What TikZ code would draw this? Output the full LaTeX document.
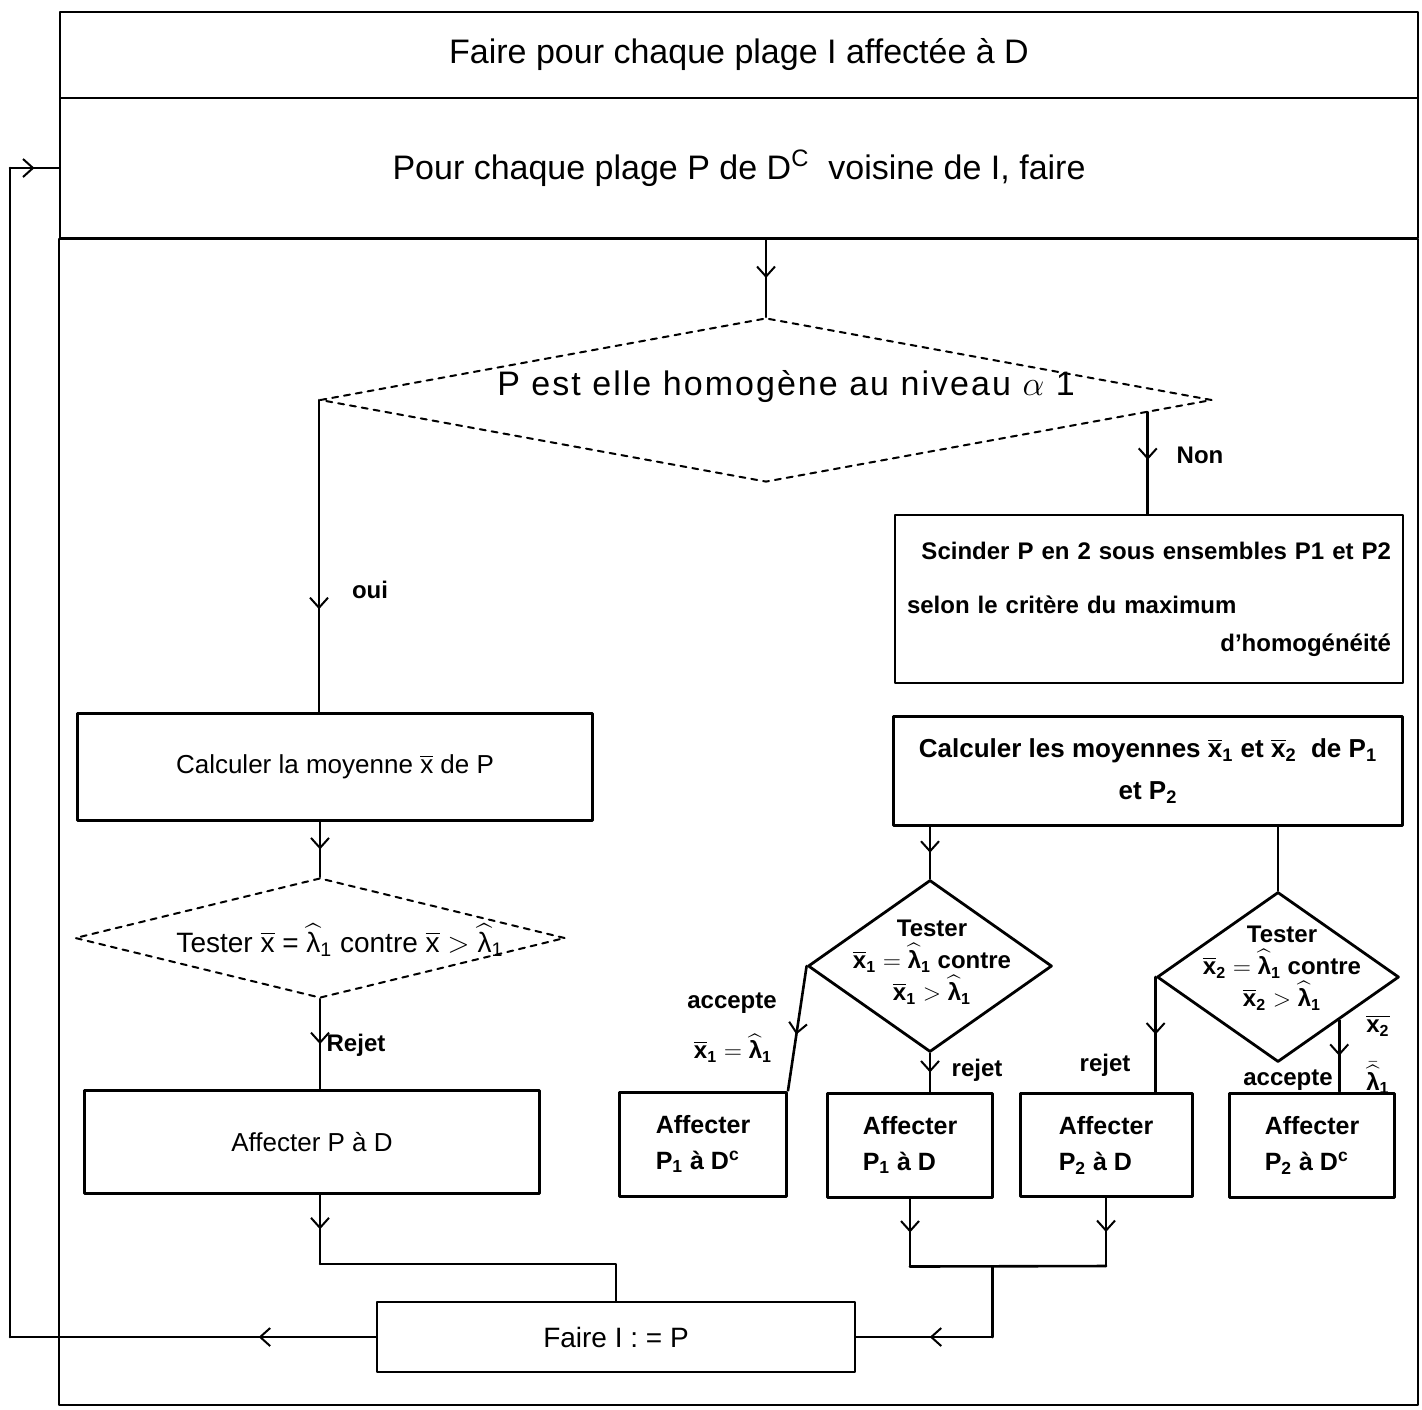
\documentclass[tikz,border=0pt]{standalone}
\usepackage{amsmath}
\usepackage{fontspec}
\setmainfont{Liberation Sans}
\usetikzlibrary{shapes.geometric,arrows.meta,decorations.markings,calc}
\newcommand{\moyx}{\overline{\text{x}}}
\newcommand{\lamh}{\widehat{\text{λ}}}
\tikzset{
  conn/.style={line width=1.3pt},
  midarrow/.style={postaction={decorate},
    decoration={markings, mark=at position #1 with {\arrow{Straight Barb[length=5pt,width=9pt,line width=1pt]}}}},
  midarrow/.default=0.5,
  band/.style={draw, line width=1pt, inner sep=0pt, font=\fontsize{17}{20}\selectfont},
  box/.style={draw, line width=1.3pt, inner sep=3pt, font=\fontsize{13}{16}\selectfont},
  smallbox/.style={box, line width=1.5pt, font=\bfseries\fontsize{12.5}{18}\selectfont, align=left},
  decision/.style={draw, diamond, inner sep=0pt, line width=1pt},
  dtext/.style={font=\bfseries\fontsize{12}{16}\selectfont, align=center, inner sep=0pt},
  lbl/.style={font=\bfseries\fontsize{12}{14}\selectfont, inner sep=1pt},
}

\begin{document}
\begin{tikzpicture}[x=0.5pt, y=-0.5pt, line cap=round, line join=round]
  \useasboundingbox (0,0) rectangle (1422,1409);

  % frame of the loops
  \node[band, minimum width=679pt, minimum height=43pt] (band1) at (739,55)
    {Faire pour chaque plage I affectée à D};
  \node[band, minimum width=679pt, minimum height=70pt] (band2) at (739,168)
    {Pour chaque plage P de D\textsuperscript{C}\ \ voisine de I, faire};
  \draw[line width=1pt] (band2.south west) rectangle (1418,1405);

  % main test
  \node[decision, dashed, minimum width=446pt, minimum height=82pt] (homog) at (766,400) {};
  \node[font=\fontsize{17}{20}\selectfont\addfontfeature{LetterSpace=6}] (homogtxt) at (786,386)
    {P est elle homogène au niveau $\alpha$ 1};

  % left branch
  \node[box, minimum width=257.5pt, minimum height=53.5pt] (calc) at (335,767)
    {Calculer la moyenne $\moyx$ de P};
  \node[decision, dashed, minimum width=245pt, minimum height=60pt] (test) at (320,938) {};
  \node[font=\fontsize{14}{16}\selectfont] (testtxt) at (340,940)
    {Tester $\moyx$ = $\lamh_{\text{1}}$ contre $\moyx > \lamh_{\text{1}}$};
  \node[box, minimum width=227.5pt, minimum height=51.5pt] (affP) at (312,1142) {Affecter P à D};
  \node[box, font=\fontsize{14}{16}\selectfont, minimum width=239pt, minimum height=35pt] (faire) at (616,1337)
    {Faire I : = P};

  % right branch
  \node[box, font=\bfseries\fontsize{12}{15}\selectfont, align=left, text width=242pt,
        minimum width=254pt, minimum height=84pt] (scinder) at (1149,599)
    {\hspace*{\fill}Scinder P en 2 sous ensembles P1 et P2\hspace*{\fill}\\[12pt]
     selon le critère du maximum\\[4pt]
     \hspace*{\fill}d'homogénéité};
  \node[box, font=\bfseries\fontsize{13}{21}\selectfont, align=center,
        minimum width=254.5pt, minimum height=54.5pt] (moy) at (1148,771)
    {Calculer les moyennes $\moyx_{\text{1}}$ et $\moyx_{\text{2}}$\ \ de P$_{\text{1}}$\\et P$_{\text{2}}$};
  \node[decision, line width=1.4pt, minimum width=122pt, minimum height=86pt] (t1) at (930,966) {};
  \node[dtext] (t1txt) at (932,962)
    {Tester\\$\moyx_{\text{1}} = \lamh_{\text{1}}$ contre\\$\moyx_{\text{1}} > \lamh_{\text{1}}$};
  \node[decision, line width=1.4pt, minimum width=121pt, minimum height=85pt] (t2) at (1278,977) {};
  \node[dtext] (t2txt) at (1282,968)
    {Tester\\$\moyx_{\text{2}} = \lamh_{\text{1}}$ contre\\$\moyx_{\text{2}} > \lamh_{\text{1}}$};

  \node[smallbox, minimum width=83.5pt, minimum height=52pt] (aff1c) at (703,1144)
    {Affecter\\P$_{\text{1}}$ à D\textsuperscript{c}};
  \node[smallbox, minimum width=82.5pt, minimum height=52pt] (aff1d) at (910,1145)
    {Affecter\\P$_{\text{1}}$ à D};
  \node[smallbox, minimum width=86pt, minimum height=51.5pt] (aff2d) at (1106,1145)
    {Affecter\\P$_{\text{2}}$ à D};
  \node[smallbox, minimum width=82.5pt, minimum height=52pt] (aff2c) at (1312,1145)
    {Affecter\\P$_{\text{2}}$ à D\textsuperscript{c}};

  % labels
  \node[lbl] (oui) at (370,590) {oui};
  \node[lbl] (non) at (1200,455) {Non};
  \node[lbl] (rejet) at (356,1045) {Rejet};
  \node[lbl] (rejet1) at (977,1070) {rejet};
  \node[lbl] (rejet2) at (1105,1065) {rejet};
  \node[lbl] (acc1) at (732,1003) {accepte};
  \node[lbl] (eq1) at (733,1048) {$\moyx_{\text{1}} = \lamh_{\text{1}}$};
  \node[lbl] (acc2) at (1288,1080) {accepte};
  \node[lbl] (eq2a) at (1378,1026) {$\overline{\text{x}_{\text{2}}}$};
  \node[lbl] (eq2b) at (1378,1078) {$\bar{\lamh}_{\text{1}}$};

  % connectors, left side
  \draw[conn, midarrow] (homog.north |- band2.south) -- (homog.north);
  \draw[conn, midarrow=0.67] (homog.west) -- (homog.west |- calc.north);
  \draw[conn, midarrow] (test.north |- calc.south) -- (test.north);
  \draw[conn, midarrow] (test.south) -- (test.south |- affP.north);
  \draw[conn, midarrow] (affP.south -| test.south) -- ++(0,69) coordinate (jL);
  \draw[conn] (jL) -| (faire.north);

  % loop back
  \coordinate (loopB) at (10,168);
  \draw[conn, midarrow=0.32] (faire.west) -- (faire.west -| loopB);
  \draw[conn] (faire.west -| loopB) -- (loopB);
  \draw[conn, midarrow] (loopB) -- (band2.west);

  % connectors, right side
  \path (homog.east) -- (homog.south) coordinate[pos=0.146] (nonpt);
  \draw[conn, midarrow=0.47] (nonpt) -- (nonpt |- scinder.north);
  \draw[conn, midarrow] (t1.north |- moy.south) -- (t1.north);
  \draw[conn] (t2.north |- moy.south) -- (t2.north);
  \draw[conn, midarrow=0.55] (t1.west) -- (aff1c.north east);
  \draw[conn, midarrow] (t1.south) -- (t1.south |- aff1d.north);
  \draw[conn, midarrow] (t2.west) -- (t2.west |- aff2d.north);
  \path (t2.east) -- (t2.south) coordinate[pos=0.5] (accpt);
  \draw[conn, midarrow] (accpt) -- (accpt |- aff2c.north);

  % merge into Faire I := P
  \draw[conn, midarrow] (aff1d.south) -- ++(0,68) coordinate (jA);
  \draw[conn, midarrow] (aff2d.south) -- ++(0,68) coordinate (jB);
  \draw[conn] (jA) -- (jB) coordinate[pos=0.42] (jM);
  \draw[conn] (jM) -- (jM |- faire.east);
  \draw[conn, midarrow=0.46] (jM |- faire.east) -- (faire.east);
\end{tikzpicture}
\end{document}
